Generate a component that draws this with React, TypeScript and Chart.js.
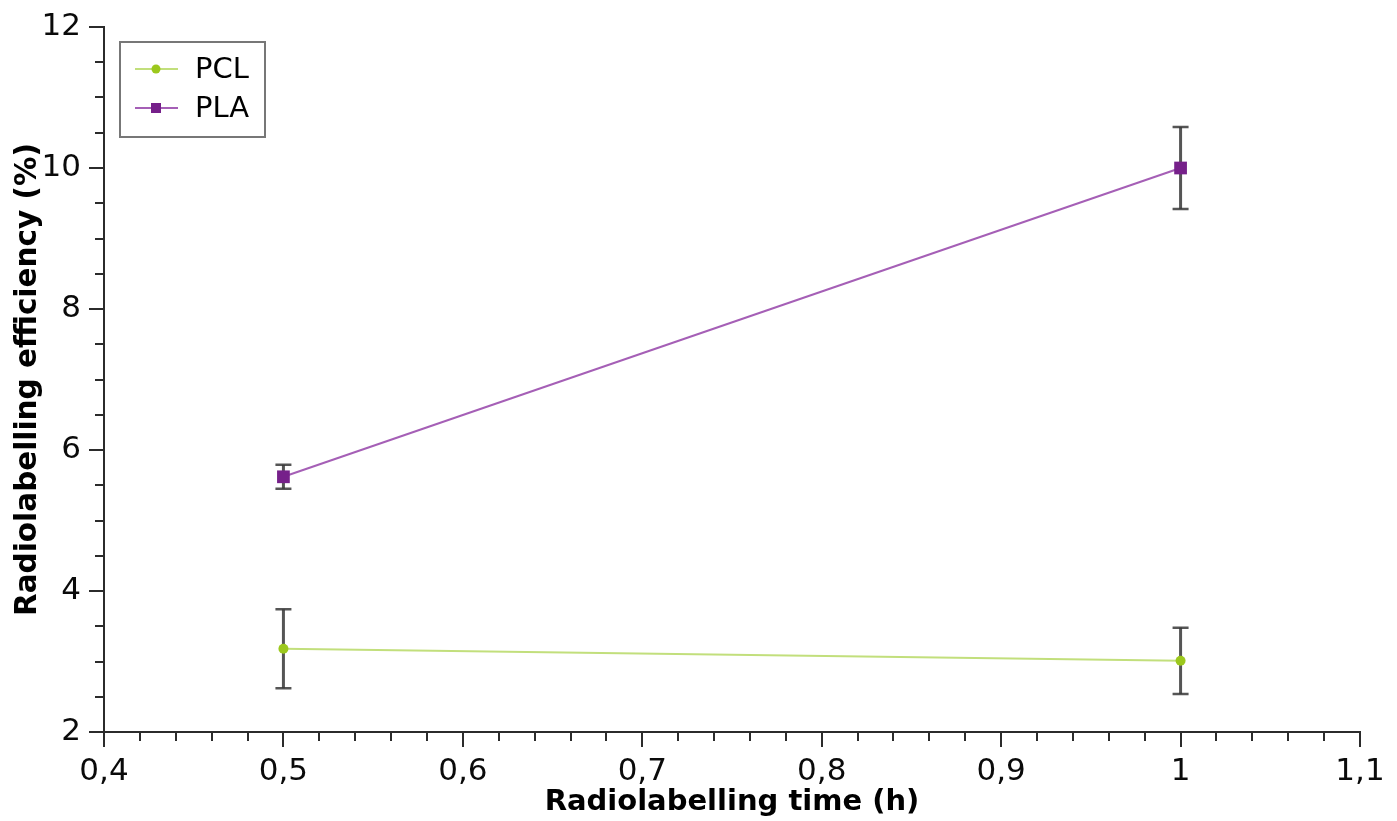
import React, { useEffect, useRef } from "react";
import { Chart, registerables } from "chart.js";

Chart.register(...registerables);

// Radiolabelling time (h)
const times = [0.5, 1];
// Radiolabelling efficiency (%) and standard deviations
const pclMean = [3.18, 3.01];
const pclErr = [0.56, 0.47];
const plaMean = [5.62, 10.0];
const plaErr = [0.17, 0.58];

const seriesNames = ["PCL", "PLA"];
const xTickStep = 0.1;
const xMinorStep = 0.02;
const yTickStep = 2;
const yMinorStep = 0.5;

const FONT = "'DejaVu Sans', Verdana, sans-serif";
const AXIS_COLOR = "#2b2b2b";

const fmtComma = (v: number) =>
  String(Number(v.toFixed(2))).replace(".", ",");

// Error bars drawn from the errors attached to each dataset
const errorBarPlugin = {
  id: "errorBars",
  beforeDatasetsDraw(chart: any) {
    const { ctx, scales } = chart;
    const x = scales.x;
    const y = scales.y;
    chart.data.datasets.forEach((ds: any) => {
      const errs: number[] = ds.errors || [];
      ds.data.forEach((p: any, i: number) => {
        const e = errs[i];
        if (e == null) return;
        const px = x.getPixelForValue(p.x);
        const top = y.getPixelForValue(p.y + e);
        const bot = y.getPixelForValue(p.y - e);
        ctx.save();
        ctx.strokeStyle = "rgba(55,55,55,0.85)";
        ctx.lineWidth = 3;
        ctx.beginPath();
        ctx.moveTo(px, top);
        ctx.lineTo(px, bot);
        ctx.stroke();
        ctx.lineWidth = 2.5;
        ctx.beginPath();
        ctx.moveTo(px - 8, top);
        ctx.lineTo(px + 8, top);
        ctx.moveTo(px - 8, bot);
        ctx.lineTo(px + 8, bot);
        ctx.stroke();
        ctx.restore();
      });
    });
  },
};

// Short minor tick marks outside both axes
const minorTickPlugin = {
  id: "minorTicks",
  afterDraw(chart: any) {
    const { ctx, scales } = chart;
    const x = scales.x;
    const y = scales.y;
    ctx.save();
    ctx.strokeStyle = AXIS_COLOR;
    ctx.lineWidth = 2;
    ctx.beginPath();
    const xn = Math.round((x.max - x.min) / xMinorStep);
    for (let i = 0; i <= xn; i++) {
      const v = x.min + i * xMinorStep;
      const px = Math.round(x.getPixelForValue(v));
      ctx.moveTo(px, y.bottom);
      ctx.lineTo(px, y.bottom + 9);
    }
    const yn = Math.round((y.max - y.min) / yMinorStep);
    for (let i = 0; i <= yn; i++) {
      const v = y.min + i * yMinorStep;
      const py = Math.round(y.getPixelForValue(v));
      ctx.moveTo(x.left, py);
      ctx.lineTo(x.left - 9, py);
    }
    ctx.stroke();
    ctx.restore();
  },
};

// Boxed legend in the upper-left corner with line + marker samples
const boxLegendPlugin = {
  id: "boxLegend",
  afterDraw(chart: any) {
    const { ctx, chartArea } = chart;
    const left = chartArea.left + 16;
    const top = chartArea.top + 15;
    const w = 145;
    const h = 95;
    ctx.save();
    ctx.fillStyle = "#ffffff";
    ctx.fillRect(left, top, w, h);
    ctx.strokeStyle = "#777777";
    ctx.lineWidth = 2;
    ctx.strokeRect(left, top, w, h);
    chart.data.datasets.forEach((ds: any, i: number) => {
      const cy = top + 27 + i * 39;
      ctx.strokeStyle = ds.borderColor;
      ctx.lineWidth = 2;
      ctx.beginPath();
      ctx.moveTo(left + 15, cy);
      ctx.lineTo(left + 58, cy);
      ctx.stroke();
      ctx.fillStyle = ds.pointBackgroundColor;
      const mx = left + 36;
      if (ds.pointStyle === "rect") {
        ctx.fillRect(mx - 5, cy - 5, 10, 10);
      } else {
        ctx.beginPath();
        ctx.arc(mx, cy, 4.5, 0, Math.PI * 2);
        ctx.fill();
      }
      ctx.fillStyle = "#000000";
      ctx.font = `29px ${FONT}`;
      ctx.textBaseline = "middle";
      ctx.textAlign = "left";
      ctx.fillText(ds.label, left + 75, cy + 1);
    });
    ctx.restore();
  },
};

export default function App() {
  const canvasRef = useRef<HTMLCanvasElement | null>(null);

  useEffect(() => {
    if (!canvasRef.current) return;
    const chart = new Chart(canvasRef.current, {
      type: "line",
      data: {
        datasets: [
          {
            label: seriesNames[0],
            data: times.map((t, i) => ({ x: t, y: pclMean[i] })),
            errors: pclErr,
            borderColor: "#c2df7c",
            borderWidth: 2,
            pointStyle: "circle",
            pointRadius: 5,
            pointBackgroundColor: "#9cc81d",
            pointBorderWidth: 0,
            tension: 0,
          } as any,
          {
            label: seriesNames[1],
            data: times.map((t, i) => ({ x: t, y: plaMean[i] })),
            errors: plaErr,
            borderColor: "#a55fb6",
            borderWidth: 2,
            pointStyle: "rect",
            pointRadius: 9,
            pointBackgroundColor: "#76208a",
            pointBorderWidth: 0,
            tension: 0,
          } as any,
        ],
      },
      options: {
        responsive: false,
        animation: false,
        layout: { padding: { left: 0, top: 27, right: 37, bottom: 0 } },
        plugins: {
          legend: { display: false },
          tooltip: { enabled: false },
        },
        scales: {
          x: {
            type: "linear",
            min: 0.4,
            max: 1.1,
            afterFit: (s: any) => {
              s.height = 89;
            },
            ticks: {
              stepSize: xTickStep,
              padding: 6,
              color: "#0a0a0a",
              font: { family: FONT, size: 31 },
              callback: (v: any) => fmtComma(Number(v)),
            },
            grid: {
              display: true,
              drawOnChartArea: false,
              drawTicks: true,
              tickLength: 15,
              color: AXIS_COLOR,
              lineWidth: 2,
            },
            border: { display: true, color: AXIS_COLOR, width: 2 },
            title: {
              display: true,
              text: "Radiolabelling time (h)",
              color: "#000000",
              font: { family: FONT, size: 29, weight: "bold" },
              padding: { top: 0, bottom: 1 },
            },
          },
          y: {
            type: "linear",
            min: 2,
            max: 12,
            afterFit: (s: any) => {
              s.width = 104;
            },
            ticks: {
              stepSize: yTickStep,
              padding: 8,
              color: "#0a0a0a",
              font: { family: FONT, size: 31 },
              callback: (v: any) => fmtComma(Number(v)),
            },
            grid: {
              display: true,
              drawOnChartArea: false,
              drawTicks: true,
              tickLength: 15,
              color: AXIS_COLOR,
              lineWidth: 2,
            },
            border: { display: true, color: AXIS_COLOR, width: 2 },
            title: {
              display: true,
              text: "Radiolabelling efficiency (%)",
              color: "#000000",
              font: { family: FONT, size: 29.5, weight: "bold" },
              padding: { top: 11, bottom: 0 },
            },
          },
        },
      },
      plugins: [errorBarPlugin, minorTickPlugin, boxLegendPlugin],
    } as any);
    return () => chart.destroy();
  }, []);

  return (
    <div style={{ position: "absolute", left: 0, top: 0, width: 1397, height: 821, background: "#fff" }}>
      <canvas ref={canvasRef} width={1397} height={821} />
    </div>
  );
}
